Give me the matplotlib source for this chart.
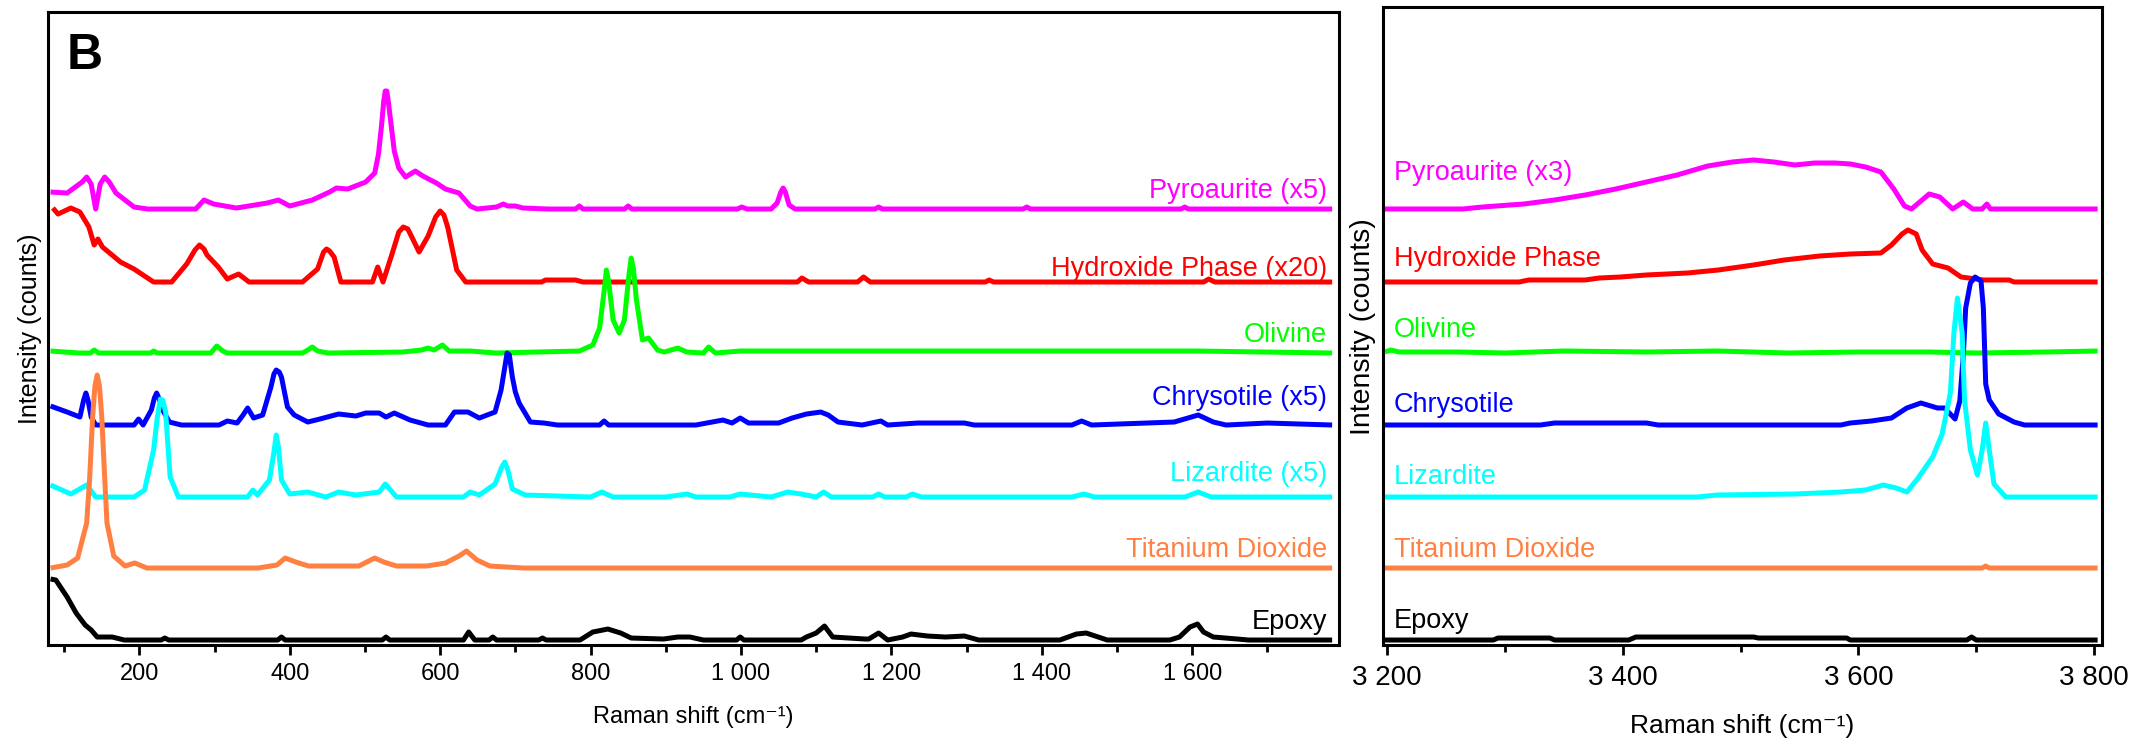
import numpy as np
import matplotlib
matplotlib.use('Agg')
import matplotlib.pyplot as plt
import matplotlib.ticker as ticker

plt.rcParams['font.family'] = ['Liberation Sans', 'DejaVu Sans']

names_left = ['Pyroaurite (x5)', 'Hydroxide Phase (x20)', 'Olivine', 'Chrysotile (x5)',
              'Lizardite (x5)', 'Titanium Dioxide', 'Epoxy']
names_right = ['Pyroaurite (x3)', 'Hydroxide Phase', 'Olivine', 'Chrysotile',
               'Lizardite', 'Titanium Dioxide', 'Epoxy']
colors = ['#FF00FF', '#FF0000', '#00FF00', '#0000FF', '#00FFFF', '#FF8040', '#000000']
# vertical offsets of the stacked spectra (arbitrary units)
offsets = [436, 363, 292, 220, 148, 77, 5]

# ---------------- low wavenumber region ----------------
pyro_l_x = [82, 104, 124, 130, 136, 142, 148, 154, 160, 169, 193, 211, 275, 286, 299, 329, 370, 385, 400,
            430, 453, 462, 477, 501, 513, 518, 522, 525, 527, 529, 531, 535, 539, 545, 554, 567, 577, 595,
            607, 625, 640, 649, 675, 684, 690, 700, 710, 744, 780, 785, 790, 845, 850, 855, 995, 1001,
            1008, 1040, 1048, 1053, 1056, 1059, 1064, 1072, 1178, 1183, 1188, 1375, 1380, 1385, 1585,
            1590, 1595, 1786]
pyro_l_y = [17, 16, 27, 32, 25, 0, 25, 32, 27, 16, 2, 0, 0, 9, 5, 1, 6, 9, 3,
            9, 17, 21, 20, 27, 36, 55, 83, 108, 118, 118, 108, 83, 58, 41, 32, 38, 33, 26,
            20, 16, 3, 0, 2, 5, 3, 3, 1, 0, 0, 3, 0, 0, 3, 0, 0, 2,
            0, 0, 6, 17, 21, 17, 4, 0, 0, 2, 0, 0, 2, 0, 0,
            2, 0, 0]

hyd_l_x = [85, 92, 109, 121, 133, 140, 145, 151, 175, 193, 219, 243, 263, 274, 280, 286, 290, 305, 317,
           332, 346, 417, 437, 445, 449, 453, 459, 468, 510, 517, 524, 536, 545, 551, 557, 563, 572, 584,
           594, 600, 605, 610, 622, 634, 735, 740, 780, 790, 1075, 1081, 1090, 1155, 1163, 1172, 1325,
           1330, 1336, 1615, 1622, 1630, 1786]
hyd_l_y = [74, 68, 74, 70, 55, 37, 43, 35, 20, 13, 0, 0, 18, 32, 37, 33, 27, 15, 3,
           8, 0, 0, 13, 30, 33, 31, 25, 0, 0, 15, 0, 28, 50, 55, 53, 44, 30, 46,
           65, 71, 67, 55, 12, 0, 0, 2, 2, 0, 0, 4, 0, 0, 5, 0, 0,
           2, 0, 0, 3, 0, 0]

oli_l_x = [82, 120, 135, 140, 146, 215, 219, 224, 275, 295, 303, 311, 317, 417, 424, 430, 437, 451, 550,
           575, 584, 592, 603, 612, 640, 674, 785, 803, 812, 818, 821, 824, 830, 838, 845, 851, 854, 857,
           861, 869, 877, 889, 898, 916, 928, 950, 957, 966, 999, 1113, 1605, 1786]
oli_l_y = [2, 0, 0, 3, 0, 0, 2, 0, 0, 0, 7, 2, 0, 0, 3, 6, 2, 0, 1,
           3, 5, 3, 8, 2, 2, 0, 2, 8, 25, 62, 83, 72, 33, 20, 33, 78, 95, 84,
           53, 13, 15, 3, 1, 5, 1, 0, 6, 0, 2, 2, 2, 0]

chr_l_x = [82, 104, 121, 126, 129, 132, 136, 142, 193, 199, 205, 216, 220, 223, 226, 231, 240, 256, 306,
           317, 330, 338, 344, 352, 364, 375, 379, 382, 386, 389, 397, 406, 424, 440, 465, 488, 501, 519,
           528, 539, 560, 584, 607, 619, 637, 652, 673, 681, 686, 689, 692, 696, 700, 705, 720, 738, 756,
           812, 818, 824, 940, 976, 988, 999, 1010, 1050, 1068, 1087, 1106, 1116, 1129, 1161, 1186,
           1195, 1235, 1297, 1310, 1440, 1453, 1466, 1576, 1608, 1628, 1645, 1700, 1786]
chr_l_y = [19, 13, 8, 25, 32, 24, 8, 0, 0, 6, 0, 15, 27, 32, 27, 15, 3, 0, 0,
           4, 2, 10, 17, 7, 10, 38, 51, 55, 53, 48, 18, 10, 3, 6, 11, 9, 12, 12,
           8, 12, 5, 0, 0, 13, 13, 7, 13, 35, 58, 72, 70, 48, 33, 22, 3, 2, 0,
           0, 4, 0, 0, 5, 2, 7, 2, 2, 7, 11, 13, 10, 3, 0, 4,
           0, 2, 2, 0, 0, 4, 0, 3, 10, 3, 0, 2, 0]

liz_l_x = [82, 109, 130, 142, 193, 207, 219, 224, 228, 231, 235, 241, 252, 344, 351, 357, 373, 379, 382,
           385, 389, 400, 424, 448, 465, 488, 519, 527, 542, 631, 640, 652, 673, 682, 686, 690, 696, 713,
           800, 815, 830, 900, 928, 940, 985, 999, 1040, 1062, 1080, 1100, 1110, 1120, 1175, 1183, 1191,
           1220, 1228, 1240, 1440, 1456, 1470, 1590, 1608, 1625, 1786]
liz_l_y = [12, 3, 12, 0, 0, 7, 47, 80, 98, 97, 85, 20, 0, 0, 7, 2, 17, 45, 62,
           50, 17, 3, 5, 0, 5, 2, 5, 13, 0, 0, 5, 2, 13, 30, 35, 27, 8, 2,
           0, 5, 0, 0, 3, 0, 0, 3, 0, 5, 3, 0, 5, 0, 0, 3, 0,
           0, 3, 0, 0, 3, 0, 0, 5, 0, 0]

tio_l_x = [82, 104, 118, 130, 134, 138, 141, 144, 147, 150, 154, 157, 166, 181, 194, 210, 358, 383, 394,
           408, 425, 492, 513, 525, 542, 582, 607, 625, 635, 649, 666, 711, 1786]
tio_l_y = [0, 3, 10, 45, 90, 152, 182, 193, 182, 152, 90, 45, 12, 2, 5, 0, 0, 3, 10,
           6, 2, 2, 10, 6, 2, 2, 5, 12, 17, 8, 2, 0, 0]

epo_l_x = [82, 89, 104, 116, 128, 136, 144, 164, 180, 229, 234, 239, 384, 389, 394, 523, 528, 533, 631,
           638, 646, 665, 670, 675, 731, 736, 741, 786, 803, 823, 840, 854, 897, 916, 932, 950, 994, 999,
           1004, 1080, 1087, 1100, 1111, 1122, 1165, 1170, 1183, 1195, 1215, 1226, 1248, 1272, 1297,
           1316, 1424, 1446, 1459, 1487, 1570, 1583, 1597, 1607, 1615, 1628, 1660, 1675, 1786]
epo_l_y = [61, 60, 43, 27, 15, 10, 3, 3, 0, 0, 2, 0, 0, 3, 0, 0, 3, 0, 0,
           8, 0, 0, 3, 0, 0, 2, 0, 0, 8, 11, 7, 2, 1, 3, 3, 0, 0, 3,
           0, 0, 3, 7, 14, 3, 1, 1, 7, 0, 3, 6, 4, 3, 4,
           0, 0, 6, 7, 0, 0, 3, 13, 16, 8, 3, 1, 0, 0]

# ---------------- OH stretching region ----------------
pyro_r_x = [3198, 3264, 3281, 3316, 3342, 3368, 3394, 3420, 3446, 3472, 3493, 3511, 3528, 3546, 3563,
            3580, 3593, 3606, 3619, 3630, 3639, 3645, 3652, 3660, 3669, 3680, 3689, 3697, 3705, 3709,
            3712, 3803]
pyro_r_y = [0, 0, 2, 5, 9, 14, 20, 27, 34, 43, 47, 49, 47, 44, 46,
            46, 45, 42, 37, 20, 3, 0, 7, 15, 12, 0, 7, 0, 0, 5,
            0, 0]

hyd_r_x = [3198, 3312, 3320, 3368, 3380, 3398, 3420, 3455, 3481, 3511, 3537, 3567, 3593, 3619, 3628,
           3637, 3642, 3649, 3654, 3663, 3676, 3687, 3706, 3728, 3732, 3803]
hyd_r_y = [0, 0, 2, 2, 4, 5, 7, 9, 12, 17, 22, 26, 28, 29, 37,
           48, 52, 48, 32, 18, 14, 5, 2, 2, 0, 0]

oli_r_x = [3198, 3203, 3210, 3260, 3300, 3350, 3420, 3480, 3540, 3600, 3660, 3700, 3760, 3803]
oli_r_y = [1, 3, 1, 1, 0, 2, 1, 2, 0, 1, 1, 0, 1, 2]

chr_r_x = [3198, 3330, 3342, 3420, 3430, 3585, 3593, 3611, 3628, 3641, 3653, 3667, 3673, 3682, 3686,
           3689, 3691, 3695, 3699, 3704, 3706, 3708, 3711, 3719, 3732, 3741, 3803]
chr_r_y = [0, 0, 2, 2, 0, 0, 2, 4, 7, 17, 22, 17, 17, 6, 24,
           70, 117, 142, 148, 144, 117, 41, 25, 11, 3, 0, 0]

liz_r_x = [3198, 3463, 3480, 3546, 3585, 3606, 3621, 3632, 3641, 3650, 3663, 3671, 3678, 3681, 3684,
           3688, 3690, 3695, 3701, 3705, 3708, 3711, 3715, 3725, 3803]
liz_r_y = [0, 0, 2, 3, 5, 7, 12, 9, 5, 18, 40, 63, 104, 164, 199,
           164, 97, 47, 22, 47, 74, 47, 13, 0, 0]

tio_r_x = [3198, 3705, 3708, 3711, 3803]
tio_r_y = [0, 0, 2, 0, 0]

epo_r_x = [3198, 3290, 3294, 3338, 3342, 3405, 3411, 3511, 3515, 3590, 3593, 3692, 3696, 3700, 3803]
epo_r_y = [0, 0, 2, 2, 0, 0, 3, 3, 2, 2, 0, 0, 3, 0, 0]

left_x = [pyro_l_x, hyd_l_x, oli_l_x, chr_l_x, liz_l_x, tio_l_x, epo_l_x]
left_y = [pyro_l_y, hyd_l_y, oli_l_y, chr_l_y, liz_l_y, tio_l_y, epo_l_y]
right_x = [pyro_r_x, hyd_r_x, oli_r_x, chr_r_x, liz_r_x, tio_r_x, epo_r_x]
right_y = [pyro_r_y, hyd_r_y, oli_r_y, chr_r_y, liz_r_y, tio_r_y, epo_r_y]

# label baselines
lab_left = [447, 369, 303, 240, 164, 88, 16]
lab_right = [465, 379, 308, 233, 161, 88, 17]

fig = plt.figure(figsize=(21.29, 7.42), dpi=100)
ax1 = fig.add_axes([0.02269, 0.1307, 0.6062, 0.8531])
ax2 = fig.add_axes([0.6494, 0.1307, 0.3378, 0.8595])

def thousands(v, pos):
    return '{:,}'.format(int(round(v))).replace(',', ' ')

for ax in (ax1, ax2):
    for s in ax.spines.values():
        s.set_linewidth(2.2)
    ax.set_yticks([])
    ax.tick_params(axis='x', which='major', direction='out', length=7.2, width=2)
    ax.tick_params(axis='x', which='minor', direction='out', length=5, width=2)
    ax.xaxis.set_major_formatter(ticker.FuncFormatter(thousands))

for k in range(7):
    ax1.plot(left_x[k], offsets[k] + np.array(left_y[k]), color=colors[k], lw=3.6,
             solid_joinstyle='round', solid_capstyle='butt')
    ax2.plot(right_x[k], offsets[k] + np.array(right_y[k]), color=colors[k], lw=3.6,
             solid_joinstyle='round', solid_capstyle='butt')
    ax1.text(0.991, lab_left[k], names_left[k], color=colors[k], fontsize=19.5,
             ha='right', va='baseline', transform=ax1.get_yaxis_transform())
    ax2.text(0.016, lab_right[k], names_right[k], color=colors[k], fontsize=19.5,
             ha='left', va='baseline', transform=ax2.get_yaxis_transform())

ax1.set_xlim(79, 1795)
ax1.set_ylim(0, 633)
ax1.xaxis.set_major_locator(ticker.FixedLocator([200, 400, 600, 800, 1000, 1200, 1400, 1600]))
ax1.xaxis.set_minor_locator(ticker.FixedLocator([100, 300, 500, 700, 900, 1100, 1300, 1500, 1700]))
ax1.tick_params(axis='x', labelsize=17, pad=5.4)

ax2.set_xlim(3196, 3806.5)
ax2.set_ylim(0, 637.7)
ax2.xaxis.set_major_locator(ticker.FixedLocator([3200, 3400, 3600, 3800]))
ax2.xaxis.set_minor_locator(ticker.FixedLocator([3300, 3500, 3700]))
ax2.tick_params(axis='x', labelsize=20, pad=7)

ax1.text(0.5, -0.1232, 'Raman shift (cm\u207b\u00b9)', fontsize=17, ha='center', va='baseline',
         transform=ax1.transAxes)
ax2.text(0.5, -0.1379, 'Raman shift (cm\u207b\u00b9)', fontsize=19, ha='center', va='baseline',
         transform=ax2.transAxes)
ax1.text(-0.0142, 0.5, 'Intensity (counts)', fontsize=18, rotation=90, ha='center', va='center',
         transform=ax1.transAxes)
ax2.text(-0.0271, 0.5, 'Intensity (counts)', fontsize=20.5, rotation=90, ha='center', va='center',
         transform=ax2.transAxes)
ax1.text(0.0145, 0.91, 'B', fontsize=36, fontweight='bold', ha='left', va='baseline',
         transform=ax1.transAxes)

plt.savefig('out.png', dpi=100)
plt.close()
